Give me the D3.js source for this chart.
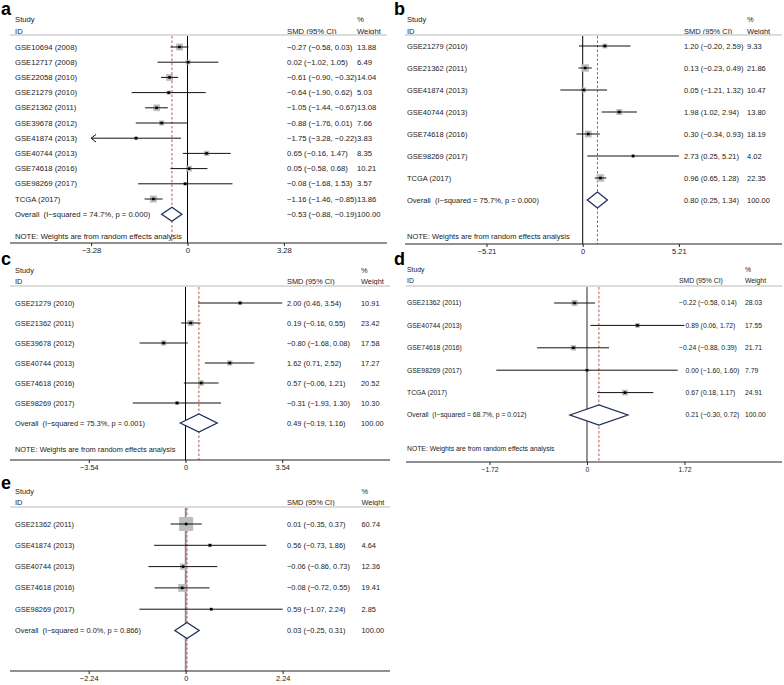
<!DOCTYPE html>
<html><head><meta charset="utf-8">
<script src="https://cdn.jsdelivr.net/npm/d3@7"></script>
<style>
html,body{margin:0;padding:0;background:#fff;}
svg text{font-family:"Liberation Sans",Arial,sans-serif;font-size:7.7px;fill:#222;white-space:pre;}
svg text.plab{font-family:"Liberation Sans",Arial,sans-serif;font-size:18px;font-weight:bold;fill:#000;}
</style></head>
<body>
<svg id="chart" width="784" height="685"></svg>
<script>
// ---------- data ----------
const studiesA = ["GSE10694 (2008)","GSE12717 (2008)","GSE22058 (2010)","GSE21279 (2010)","GSE21362 (2011)","GSE39678 (2012)","GSE41874 (2013)","GSE40744 (2013)","GSE74618 (2016)","GSE98269 (2017)","TCGA (2017)"];
const smdA    = [-0.27, 0.02, -0.61, -0.64, -1.05, -0.88, -1.75, 0.65, 0.05, -0.08, -1.16];
const lowA    = [-0.58, -1.02, -0.90, -1.90, -1.44, -1.76, -3.28, -0.16, -0.58, -1.68, -1.46];
const highA   = [0.03, 1.05, -0.32, 0.62, -0.67, 0.01, -0.22, 1.47, 0.68, 1.53, -0.85];
const weightA = [13.88, 6.49, 14.04, 5.03, 13.08, 7.66, 3.83, 8.35, 10.21, 3.57, 13.86];
const overallA = [-0.53, -0.88, -0.19];
const hetA = ["74.7%", "0.000"];
const ticksA = [-3.28, 0, 3.28];
const arrowsA = ["GSE41874 (2013)"];

const studiesB = ["GSE21279 (2010)","GSE21362 (2011)","GSE41874 (2013)","GSE40744 (2013)","GSE74618 (2016)","GSE98269 (2017)","TCGA (2017)"];
const smdB    = [1.20, 0.13, 0.05, 1.98, 0.30, 2.73, 0.96];
const lowB    = [-0.20, -0.23, -1.21, 1.02, -0.34, 0.25, 0.65];
const highB   = [2.59, 0.49, 1.32, 2.94, 0.93, 5.21, 1.28];
const weightB = [9.33, 21.86, 10.47, 13.80, 18.19, 4.02, 22.35];
const overallB = [0.80, 0.25, 1.34];
const hetB = ["75.7%", "0.000"];
const ticksB = [-5.21, 0, 5.21];

const studiesC = ["GSE21279 (2010)","GSE21362 (2011)","GSE39678 (2012)","GSE40744 (2013)","GSE74618 (2016)","GSE98269 (2017)"];
const smdC    = [2.00, 0.19, -0.80, 1.62, 0.57, -0.31];
const lowC    = [0.46, -0.16, -1.68, 0.71, -0.06, -1.93];
const highC   = [3.54, 0.55, 0.08, 2.52, 1.21, 1.30];
const weightC = [10.91, 23.42, 17.58, 17.27, 20.52, 10.30];
const overallC = [0.49, -0.19, 1.16];
const hetC = ["75.3%", "0.001"];
const ticksC = [-3.54, 0, 3.54];

const studiesD = ["GSE21362 (2011)","GSE40744 (2013)","GSE74618 (2016)","GSE98269 (2017)","TCGA (2017)"];
const smdD    = [-0.22, 0.89, -0.24, 0.00, 0.67];
const lowD    = [-0.58, 0.06, -0.88, -1.60, 0.18];
const highD   = [0.14, 1.72, 0.39, 1.60, 1.17];
const weightD = [28.03, 17.55, 21.71, 7.79, 24.91];
const overallD = [0.21, -0.30, 0.72];
const hetD = ["68.7%", "0.012"];
const ticksD = [-1.72, 0, 1.72];

const studiesE = ["GSE21362 (2011)","GSE41874 (2013)","GSE40744 (2013)","GSE74618 (2016)","GSE98269 (2017)"];
const smdE    = [0.01, 0.56, -0.06, -0.08, 0.59];
const lowE    = [-0.35, -0.73, -0.86, -0.72, -1.07];
const highE   = [0.37, 1.86, 0.73, 0.55, 2.24];
const weightE = [60.74, 4.64, 12.36, 19.41, 2.85];
const overallE = [0.03, -0.25, 0.31];
const hetE = ["0.0%", "0.866"];
const ticksE = [-2.24, 0, 2.24];

const noteText = "NOTE: Weights are from random effects analysis";

// ---------- layout (positions / styles) ----------
const layouts = [
  {lab:"a", labX:1, labY:15, fs:7.7, studyX:15, smdX:287, padPos:0, wX:357, zeroX:187.5, half:96.4, studyY:19, idY:31, hline:35, row0:47, step:15.2, noteY:236, axisY:243, axisL:10, axisR:387, dH:14, boxK:1.85, nullC:"#000", nullW:1,
   studies:studiesA, smd:smdA, low:lowA, high:highA, w:weightA, ov:overallA, het:hetA, ticks:ticksA, arrows:arrowsA, note:true},
  {lab:"b", labX:394, labY:15, fs:7.5, studyX:407, smdX:684, padPos:0, wX:747, zeroX:582.7, half:96.2, studyY:19, idY:31, hline:35, row0:46, step:22, noteY:236, axisY:244, axisL:405, axisR:782, dH:16, boxK:1.6, nullC:"#000", nullW:1,
   studies:studiesB, smd:smdB, low:lowB, high:highB, w:weightB, ov:overallB, het:hetB, ticks:ticksB, arrows:[], note:true},
  {lab:"c", labX:1, labY:265, fs:7.4, studyX:15, smdX:287, padPos:0, wX:361, zeroX:185.5, half:96.7, studyY:270, idY:281, hline:286, row0:303, step:20, noteY:449, axisY:460, axisL:10, axisR:390, dH:18, boxK:1.25, nullC:"#000", nullW:1,
   studies:studiesC, smd:smdC, low:lowC, high:highC, w:weightC, ov:overallC, het:hetC, ticks:ticksC, arrows:[], note:true},
  {lab:"d", labX:394, labY:265, fs:6.8, studyX:407, smdX:679, padPos:6.5, wX:745, zeroX:587, half:97.5, studyY:270, idY:281, hline:286, row0:303, step:22.4, noteY:449, axisY:462, axisL:406, axisR:782, dH:20, boxK:1.15, nullC:"#888", nullW:1.8,
   studies:studiesD, smd:smdD, low:lowD, high:highD, w:weightD, ov:overallD, het:hetD, ticks:ticksD, arrows:[], note:true},
  {lab:"e", labX:1, labY:489, fs:7.4, studyX:15, smdX:287, padPos:0, wX:361.5, zeroX:185.7, half:97, studyY:491, idY:502, hline:507, row0:524, step:21.3, noteY:0, axisY:671, axisL:10, axisR:390, dH:16, boxK:1.8, nullC:"#888", nullW:1.8,
   studies:studiesE, smd:smdE, low:lowE, high:highE, w:weightE, ov:overallE, het:hetE, ticks:ticksE, arrows:[], note:false}
];

const svg = d3.select("#chart");
const f2 = v => d3.format(".2f")(v).replace("-", "\u2212");
const ci = (m, l, h) => `${f2(m)} (${f2(l)}, ${f2(h)})`;

layouts.forEach(L => {
  const g = svg.append("g").style("font-size", L.fs + "px");
  const tmax = d3.max(L.ticks);
  const x = d3.scaleLinear().domain([-tmax, tmax]).range([L.zeroX - L.half, L.zeroX + L.half]);
  const n = L.studies.length;
  const y = d3.scaleLinear().domain([0, n]).range([L.row0, L.row0 + n * L.step]);
  const txt = (xx, yy, s) => g.append("text").attr("x", xx).attr("y", yy).attr("dy", "0.35em")
    .style("font-size", L.fs + "px").text(s);

  g.append("text").attr("class", "plab").attr("x", L.labX).attr("y", L.labY).text(L.lab);

  txt(L.studyX, L.studyY, "Study");
  txt(L.studyX, L.idY, "ID");
  txt(L.smdX, L.idY, "SMD (95% CI)");
  txt(L.wX, L.studyY, "%");
  txt(L.wX, L.idY, "Weight");
  g.append("line").attr("x1", L.axisL).attr("x2", L.axisR).attr("y1", L.hline).attr("y2", L.hline)
    .attr("stroke", "#dcdcdc").attr("stroke-width", 2);

  g.append("line").attr("x1", x(0)).attr("x2", x(0)).attr("y1", L.hline + 1).attr("y2", L.axisY)
    .attr("stroke", L.nullC).attr("stroke-width", L.nullW);
  g.append("line").attr("x1", x(L.ov[0])).attr("x2", x(L.ov[0])).attr("y1", L.hline + 1).attr("y2", L.axisY)
    .attr("stroke", "#c8504e").attr("stroke-width", 1).attr("stroke-dasharray", "2.5,2");

  const rows = g.selectAll("g.row").data(L.studies.map((s, i) => ({s, i}))).join("g").attr("class", "row");
  rows.append("rect")
    .attr("x", d => x(L.smd[d.i]) - L.boxK * Math.sqrt(L.w[d.i]) / 2)
    .attr("y", d => y(d.i) - L.boxK * Math.sqrt(L.w[d.i]) / 2)
    .attr("width", d => L.boxK * Math.sqrt(L.w[d.i]))
    .attr("height", d => L.boxK * Math.sqrt(L.w[d.i]))
    .attr("fill", "#bdbdbd");
  rows.append("line")
    .attr("x1", d => x(Math.max(L.low[d.i], -tmax))).attr("x2", d => x(Math.min(L.high[d.i], tmax)))
    .attr("y1", d => y(d.i)).attr("y2", d => y(d.i))
    .attr("stroke", "#111").attr("stroke-width", 1);
  rows.filter(d => L.arrows.includes(d.s)).append("path")
    .attr("d", d => { const ax = x(Math.max(L.low[d.i], -tmax)), ay = y(d.i); return `M${ax + 5},${ay - 3.8}L${ax},${ay}L${ax + 5},${ay + 3.8}`; })
    .attr("fill", "none").attr("stroke", "#111").attr("stroke-width", 1);
  rows.append("rect")
    .attr("x", d => x(L.smd[d.i]) - 1.3).attr("y", d => y(d.i) - 1.3)
    .attr("width", 2.6).attr("height", 2.6).attr("fill", "#000");
  rows.append("text").attr("x", L.studyX).attr("y", d => y(d.i)).attr("dy", "0.35em").text(d => d.s);
  rows.append("text").attr("x", d => L.smdX + (L.smd[d.i] >= 0 ? L.padPos : 0)).attr("y", d => y(d.i)).attr("dy", "0.35em")
    .text(d => ci(L.smd[d.i], L.low[d.i], L.high[d.i]));
  rows.append("text").attr("x", L.wX).attr("y", d => y(d.i)).attr("dy", "0.35em")
    .text(d => d3.format(".2f")(L.w[d.i]));
  rows.selectAll("text").style("font-size", L.fs + "px");

  const oy = y(n);
  const [om, ol, oh] = L.ov;
  g.append("path")
    .attr("d", `M${x(ol)},${oy}L${x(om)},${oy - L.dH / 2}L${x(oh)},${oy}L${x(om)},${oy + L.dH / 2}Z`)
    .attr("fill", "#fff").attr("stroke", "#1f2d5c").attr("stroke-width", 1.3);
  txt(L.studyX, oy, `Overall  (I\u2212squared = ${L.het[0]}, p = ${L.het[1]})`);
  txt(L.smdX + (om >= 0 ? L.padPos : 0), oy, ci(om, ol, oh));
  txt(L.wX, oy, "100.00");

  if (L.note) txt(L.studyX, L.noteY, noteText);

  g.append("line").attr("x1", L.axisL).attr("x2", L.axisR).attr("y1", L.axisY).attr("y2", L.axisY)
    .attr("stroke", "#222").attr("stroke-width", 1);
  const ax = d3.axisBottom(x).tickValues(L.ticks).tickSize(3).tickPadding(2)
    .tickFormat(v => v === 0 ? "0" : f2(v));
  const axg = g.append("g").attr("transform", `translate(0,${L.axisY})`).call(ax);
  axg.select(".domain").remove();
  axg.selectAll(".tick line").attr("stroke", "#222");
  axg.selectAll(".tick text").attr("font-family", null).attr("font-size", null)
    .style("font-size", L.fs + "px").style("fill", "#222");
});
</script>
</body></html>
